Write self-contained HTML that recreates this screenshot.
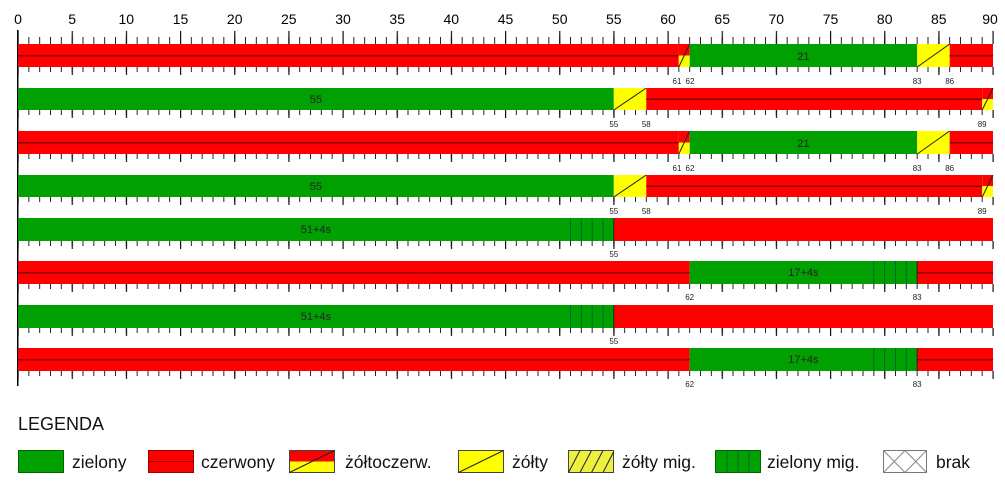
<!DOCTYPE html>
<html><head><meta charset="utf-8"><style>
body{margin:0;background:#fff;}
svg{display:block;font-family:"Liberation Sans",sans-serif;}
</style></head><body>
<svg width="1005" height="484" viewBox="0 0 1005 484" xmlns="http://www.w3.org/2000/svg">
<defs>
<pattern id="mi" patternUnits="userSpaceOnUse" x="17.5" y="0" width="10.8333" height="500"><rect x="0" y="0" width="1" height="500" fill="#222"/></pattern>
<pattern id="ma" patternUnits="userSpaceOnUse" x="17.5" y="0" width="54.1667" height="500"><rect x="0" y="0" width="1.2" height="500" fill="#111"/></pattern>
</defs>
<g font-size="14" fill="#000" text-anchor="middle">
<text x="18" y="24">0</text><text x="72.2" y="24">5</text><text x="126.3" y="24">10</text><text x="180.5" y="24">15</text><text x="234.7" y="24">20</text><text x="288.8" y="24">25</text><text x="343" y="24">30</text><text x="397.2" y="24">35</text><text x="451.3" y="24">40</text><text x="505.5" y="24">45</text><text x="559.7" y="24">50</text><text x="613.8" y="24">55</text><text x="668" y="24">60</text><text x="722.2" y="24">65</text><text x="776.3" y="24">70</text><text x="830.5" y="24">75</text><text x="884.7" y="24">80</text><text x="938.8" y="24">85</text><text x="990" y="24">90</text>
</g>
<rect x="17" y="30" width="1.5" height="356" fill="#000"/>
<rect x="17.5" y="37" width="977" height="7" fill="url(#mi)"/>
<rect x="17.5" y="31" width="977" height="13" fill="url(#ma)"/>
<g>
<rect x="17.5" y="67" width="977" height="5" fill="url(#mi)"/><rect x="17.5" y="67" width="977" height="8" fill="url(#ma)"/>
<rect x="17.5" y="110" width="977" height="5" fill="url(#mi)"/><rect x="17.5" y="110" width="977" height="8" fill="url(#ma)"/>
<rect x="17.5" y="154" width="977" height="5" fill="url(#mi)"/><rect x="17.5" y="154" width="977" height="8" fill="url(#ma)"/>
<rect x="17.5" y="197" width="977" height="5" fill="url(#mi)"/><rect x="17.5" y="197" width="977" height="8" fill="url(#ma)"/>
<rect x="17.5" y="241" width="977" height="5" fill="url(#mi)"/><rect x="17.5" y="241" width="977" height="8" fill="url(#ma)"/>
<rect x="17.5" y="284" width="977" height="5" fill="url(#mi)"/><rect x="17.5" y="284" width="977" height="8" fill="url(#ma)"/>
<rect x="17.5" y="328" width="977" height="5" fill="url(#mi)"/><rect x="17.5" y="328" width="977" height="8" fill="url(#ma)"/>
<rect x="17.5" y="371" width="977" height="5" fill="url(#mi)"/><rect x="17.5" y="371" width="977" height="8" fill="url(#ma)"/>
</g>

<g transform="translate(0,0)">
<rect x="18" y="44" width="660.8" height="23" fill="#f00"/>
<rect x="18" y="55" width="660.8" height="1.5" fill="#800"/>
<rect x="678.8" y="44" width="10.9" height="11.5" fill="#f00"/>
<rect x="678.8" y="55.5" width="10.9" height="11.5" fill="#ff0"/>
<line x1="678.8" y1="67" x2="689.7" y2="44" stroke="#222" stroke-width="1"/>
<rect x="689.7" y="44" width="227.5" height="23" fill="#00a000"/>
<rect x="917.2" y="44" width="32.5" height="23" fill="#ff0"/>
<line x1="917.2" y1="67" x2="949.7" y2="44" stroke="#222" stroke-width="1"/>
<rect x="949.7" y="44" width="43.3" height="23" fill="#f00"/>
<rect x="949.7" y="55" width="43.3" height="1.5" fill="#800"/>
<text x="803.4" y="60" font-size="11" text-anchor="middle" fill="#222">21</text>
<g font-size="8" text-anchor="middle" fill="#222"><text x="677" y="84">61</text><text x="690" y="84">62</text><text x="917.2" y="84">83</text><text x="949.7" y="84">86</text></g>
</g>
<g transform="translate(0,87)">
<rect x="18" y="44" width="660.8" height="23" fill="#f00"/>
<rect x="18" y="55" width="660.8" height="1.5" fill="#800"/>
<rect x="678.8" y="44" width="10.9" height="11.5" fill="#f00"/>
<rect x="678.8" y="55.5" width="10.9" height="11.5" fill="#ff0"/>
<line x1="678.8" y1="67" x2="689.7" y2="44" stroke="#222" stroke-width="1"/>
<rect x="689.7" y="44" width="227.5" height="23" fill="#00a000"/>
<rect x="917.2" y="44" width="32.5" height="23" fill="#ff0"/>
<line x1="917.2" y1="67" x2="949.7" y2="44" stroke="#222" stroke-width="1"/>
<rect x="949.7" y="44" width="43.3" height="23" fill="#f00"/>
<rect x="949.7" y="55" width="43.3" height="1.5" fill="#800"/>
<text x="803.4" y="60" font-size="11" text-anchor="middle" fill="#222">21</text>
<g font-size="8" text-anchor="middle" fill="#222"><text x="677" y="84">61</text><text x="690" y="84">62</text><text x="917.2" y="84">83</text><text x="949.7" y="84">86</text></g>
</g>

<g transform="translate(0,0)">
<rect x="18" y="88" width="595.8" height="22" fill="#00a000"/>
<rect x="613.8" y="88" width="32.5" height="22" fill="#ff0"/>
<line x1="613.8" y1="110" x2="646.3" y2="88" stroke="#222" stroke-width="1"/>
<rect x="646.3" y="88" width="335.9" height="22" fill="#f00"/>
<rect x="646.3" y="98.5" width="335.9" height="1.5" fill="#800"/>
<rect x="982.2" y="88" width="10.8" height="11" fill="#f00"/>
<rect x="982.2" y="99" width="10.8" height="11" fill="#ff0"/>
<line x1="982.2" y1="110" x2="993" y2="88" stroke="#222" stroke-width="1"/>
<text x="315.9" y="103" font-size="11" text-anchor="middle" fill="#222">55</text>
<g font-size="8" text-anchor="middle" fill="#222"><text x="613.8" y="127">55</text><text x="646.3" y="127">58</text><text x="982.2" y="127">89</text></g>
</g>
<g transform="translate(0,87)">
<rect x="18" y="88" width="595.8" height="22" fill="#00a000"/>
<rect x="613.8" y="88" width="32.5" height="22" fill="#ff0"/>
<line x1="613.8" y1="110" x2="646.3" y2="88" stroke="#222" stroke-width="1"/>
<rect x="646.3" y="88" width="335.9" height="22" fill="#f00"/>
<rect x="646.3" y="98.5" width="335.9" height="1.5" fill="#800"/>
<rect x="982.2" y="88" width="10.8" height="11" fill="#f00"/>
<rect x="982.2" y="99" width="10.8" height="11" fill="#ff0"/>
<line x1="982.2" y1="110" x2="993" y2="88" stroke="#222" stroke-width="1"/>
<text x="315.9" y="103" font-size="11" text-anchor="middle" fill="#222">55</text>
<g font-size="8" text-anchor="middle" fill="#222"><text x="613.8" y="127">55</text><text x="646.3" y="127">58</text><text x="982.2" y="127">89</text></g>
</g>

<g transform="translate(0,0)">
<rect x="18" y="218" width="595.8" height="23" fill="#00a000"/>
<g stroke="#063" stroke-width="1"><line x1="570.5" y1="218" x2="570.5" y2="241"/><line x1="581.3" y1="218" x2="581.3" y2="241"/><line x1="592.2" y1="218" x2="592.2" y2="241"/><line x1="603" y1="218" x2="603" y2="241"/></g>
<rect x="613.8" y="218" width="379.2" height="23" fill="#f00"/>
<line x1="613.8" y1="218" x2="613.8" y2="241" stroke="#222" stroke-width="1"/>
<text x="315.9" y="233" font-size="11" text-anchor="middle" fill="#222">51+4s</text>
<text x="613.8" y="257" font-size="8" text-anchor="middle" fill="#222">55</text>
</g>
<g transform="translate(0,87)">
<rect x="18" y="218" width="595.8" height="23" fill="#00a000"/>
<g stroke="#063" stroke-width="1"><line x1="570.5" y1="218" x2="570.5" y2="241"/><line x1="581.3" y1="218" x2="581.3" y2="241"/><line x1="592.2" y1="218" x2="592.2" y2="241"/><line x1="603" y1="218" x2="603" y2="241"/></g>
<rect x="613.8" y="218" width="379.2" height="23" fill="#f00"/>
<line x1="613.8" y1="218" x2="613.8" y2="241" stroke="#222" stroke-width="1"/>
<text x="315.9" y="233" font-size="11" text-anchor="middle" fill="#222">51+4s</text>
<text x="613.8" y="257" font-size="8" text-anchor="middle" fill="#222">55</text>
</g>

<g transform="translate(0,0)">
<rect x="18" y="261" width="671.7" height="23" fill="#f00"/>
<rect x="18" y="272" width="671.7" height="1.5" fill="#800"/>
<rect x="689.7" y="261" width="227.5" height="23" fill="#00a000"/>
<g stroke="#063" stroke-width="1"><line x1="873.8" y1="261" x2="873.8" y2="284"/><line x1="884.6" y1="261" x2="884.6" y2="284"/><line x1="895.5" y1="261" x2="895.5" y2="284"/><line x1="906.3" y1="261" x2="906.3" y2="284"/></g>
<rect x="917.2" y="261" width="75.8" height="23" fill="#f00"/>
<rect x="917.2" y="272" width="75.8" height="1.5" fill="#800"/>
<line x1="917.2" y1="261" x2="917.2" y2="284" stroke="#222" stroke-width="1"/>
<text x="803.4" y="276" font-size="11" text-anchor="middle" fill="#222">17+4s</text>
<g font-size="8" text-anchor="middle" fill="#222"><text x="689.7" y="300">62</text><text x="917.2" y="300">83</text></g>
</g>
<g transform="translate(0,87)">
<rect x="18" y="261" width="671.7" height="23" fill="#f00"/>
<rect x="18" y="272" width="671.7" height="1.5" fill="#800"/>
<rect x="689.7" y="261" width="227.5" height="23" fill="#00a000"/>
<g stroke="#063" stroke-width="1"><line x1="873.8" y1="261" x2="873.8" y2="284"/><line x1="884.6" y1="261" x2="884.6" y2="284"/><line x1="895.5" y1="261" x2="895.5" y2="284"/><line x1="906.3" y1="261" x2="906.3" y2="284"/></g>
<rect x="917.2" y="261" width="75.8" height="23" fill="#f00"/>
<rect x="917.2" y="272" width="75.8" height="1.5" fill="#800"/>
<line x1="917.2" y1="261" x2="917.2" y2="284" stroke="#222" stroke-width="1"/>
<text x="803.4" y="276" font-size="11" text-anchor="middle" fill="#222">17+4s</text>
<g font-size="8" text-anchor="middle" fill="#222"><text x="689.7" y="300">62</text><text x="917.2" y="300">83</text></g>
</g>

<text x="18" y="430" font-size="18" fill="#111">LEGENDA</text>
<g font-size="17.5" fill="#111">
<rect x="18.5" y="450.5" width="45" height="22" fill="#00a000" stroke="#060"/>
<text x="72" y="468">zielony</text>
<rect x="148.5" y="450.5" width="45" height="22" fill="#f00" stroke="#900"/>
<line x1="148.5" y1="461.5" x2="193.5" y2="461.5" stroke="#900"/>
<text x="201" y="468">czerwony</text>
<rect x="289.5" y="450.5" width="45" height="11" fill="#f00"/>
<rect x="289.5" y="461.5" width="45" height="11" fill="#ff0"/>
<rect x="289.5" y="450.5" width="45" height="22" fill="none" stroke="#444"/>
<line x1="289.5" y1="472.5" x2="334.5" y2="450.5" stroke="#222"/>
<text x="345" y="468">żółtoczerw.</text>
<rect x="458.5" y="450.5" width="45" height="22" fill="#ff0" stroke="#444"/>
<line x1="458.5" y1="472.5" x2="503.5" y2="450.5" stroke="#222"/>
<text x="512" y="468">żółty</text>
<rect x="568.5" y="450.5" width="45" height="22" fill="#eef040" stroke="#444"/>
<g stroke="#222"><line x1="568.5" y1="472.5" x2="580" y2="450.5"/><line x1="580" y1="472.5" x2="591.5" y2="450.5"/><line x1="591.5" y1="472.5" x2="603" y2="450.5"/><line x1="603" y1="472.5" x2="613.5" y2="452"/></g>
<text x="622" y="468">żółty mig.</text>
<rect x="715.5" y="450.5" width="45" height="22" fill="#00a000" stroke="#060"/>
<g stroke="#063"><line x1="727" y1="450.5" x2="727" y2="472.5"/><line x1="738" y1="450.5" x2="738" y2="472.5"/><line x1="749" y1="450.5" x2="749" y2="472.5"/></g>
<text x="767" y="468">zielony mig.</text>
<rect x="883.5" y="450.5" width="43" height="22" fill="#fff" stroke="#777"/>
<g stroke="#888"><line x1="883.5" y1="450.5" x2="905" y2="472.5"/><line x1="905" y1="450.5" x2="883.5" y2="472.5"/><line x1="905" y1="450.5" x2="926.5" y2="472.5"/><line x1="926.5" y1="450.5" x2="905" y2="472.5"/></g>
<text x="936" y="468">brak</text>
</g>
</svg>
</body></html>
